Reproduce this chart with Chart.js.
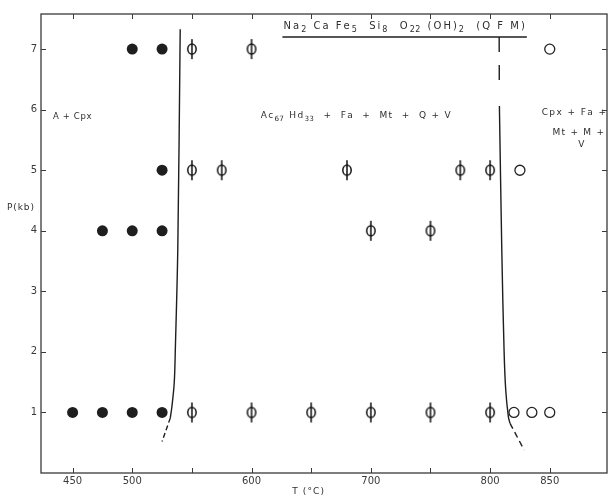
<!DOCTYPE html>
<html><head><meta charset="utf-8">
<script src="https://cdn.jsdelivr.net/npm/chart.js@4"></script>
<style>html,body{margin:0;padding:0;background:#fff}canvas{display:block}</style>
</head><body><canvas id="c" width="614" height="495"></canvas>
<script>
// ---- data (T in °C, P in kb) ----
const xTicks = [450, 500, 550, 600, 650, 700, 750, 800, 850];
const xTickLabels = ['450', '500', '', '600', '', '700', '', '800', '850'];
const yTicks = [1, 2, 3, 4, 5, 6, 7];

// A + Cpx (filled circles)
const filledT = [500, 525, 525, 475, 500, 525, 450, 475, 500, 525];
const filledP = [7, 7, 5, 4, 4, 4, 1, 1, 1, 1];
// amphibole stable (circle with bar)
const phiT = [550, 600, 550, 575, 680, 775, 800, 700, 750, 550, 600, 650, 700, 750, 800];
const phiP = [7, 7, 5, 5, 5, 5, 5, 4, 4, 1, 1, 1, 1, 1, 1];
// Cpx + Fa + Mt + M + V (open circles)
const openT = [850, 825, 820, 835, 850];
const openP = [7, 5, 1, 1, 1];

// phase boundaries
const leftBoundT = [540.2, 538.2, 536.1, 535.2, 533.2, 531.9];
const leftBoundP = [7.33, 3.73, 2.03, 1.49, 1.09, 0.91];
const leftDashT = [531.9, 525.0];
const leftDashP = [0.91, 0.52];
const rightBoundT = [807.8, 809.8, 811.7, 813.1, 815.3, 816.7];
const rightBoundP = [6.06, 3.68, 2.03, 1.37, 0.93, 0.82];
const rightDashT = [816.7, 828.5];
const rightDashP = [0.82, 0.38];
const rightUpT = [807.6, 807.7];
const rightUpP = [7.20, 6.42];
const headerLineT = [625.9, 830.8];
const headerLineP = [7.20, 7.20];

// text labels: [text, T start, T end, P]
const labelTexts = ['Na_2 Ca Fe_5  Si_8  O_22 (OH)_2  (Q F M)', 'A + Cpx', 'Ac_67 Hd_33  +  Fa  +  Mt  +  Q + V', 'Cpx + Fa +', 'Mt + M +', 'V'];
const labelT0 = [626.8, 433.5, 607.7, 843.2, 852.4, 874.0];
const labelT1 = [829.1, 465.8, 766.9, 897.2, 895.5, null];
const labelP = [7.37, 5.88, 5.90, 5.95, 5.62, 5.42];
const labelSize = [10, 8.5, 9, 9, 9, 9];

const zip = (a, b) => a.map((v, i) => ({x: v, y: b[i]}));

// phi marker
const phi = document.createElement('canvas');
phi.width = 12; phi.height = 22;
(function(){
  const g = phi.getContext('2d');
  g.strokeStyle = '#111'; g.lineWidth = 1.5;
  g.beginPath(); g.ellipse(6, 11, 4.2, 5.0, 0, 0, Math.PI * 2); g.stroke();
  g.beginPath(); g.moveTo(6, 1); g.lineTo(6, 21); g.stroke();
})();

function parseRich(str) {
  const out = []; const re = /_(\d+)/g; let last = 0, m;
  while ((m = re.exec(str))) {
    if (m.index > last) out.push({t: str.slice(last, m.index), sub: false});
    out.push({t: m[1], sub: true}); last = re.lastIndex;
  }
  if (last < str.length) out.push({t: str.slice(last), sub: false});
  return out;
}
function drawRich(ctx, str, x0, x1, yMid, size) {
  const chars = [];
  parseRich(str).forEach(s => { for (const c of s.t) chars.push({c, sub: s.sub}); });
  const fMain = size + 'px "DejaVu Sans"', fSub = (size * 0.8) + 'px "DejaVu Sans"';
  let nat = 0, wsum = 0;
  chars.forEach((ch, i) => {
    ctx.font = ch.sub ? fSub : fMain; ch.w = ctx.measureText(ch.c).width; nat += ch.w;
    ch.gw = (i < chars.length - 1) ? ((ch.sub && chars[i + 1].sub) ? 0.25 : 1) : 0;
    wsum += ch.gw;
  });
  const sp = (wsum > 0 && x1 != null) ? (x1 - x0 - nat) / wsum : 0;
  let x = x0;
  ctx.textBaseline = 'middle'; ctx.textAlign = 'left';
  chars.forEach(ch => {
    ctx.font = ch.sub ? fSub : fMain;
    ctx.fillText(ch.c, x, yMid + (ch.sub ? size * 0.35 : 0));
    x += ch.w + sp * ch.gw;
  });
}

const decor = {
  id: 'decor',
  afterDatasetsDraw(chart) {
    const {ctx, chartArea: a, scales: {x, y}} = chart;
    ctx.save();
    ctx.strokeStyle = '#3a3a3a'; ctx.lineWidth = 1.3;
    ctx.strokeRect(a.left, a.top, a.right - a.left, a.bottom - a.top);
    ctx.lineWidth = 1;
    ctx.beginPath();
    x.ticks.forEach(t => {
      const px = Math.round(x.getPixelForValue(t.value)) + 0.5;
      ctx.moveTo(px, a.bottom); ctx.lineTo(px, a.bottom - 5);
      ctx.moveTo(px, a.top); ctx.lineTo(px, a.top + 5);
    });
    y.ticks.forEach(t => {
      const py = Math.round(y.getPixelForValue(t.value)) + 0.5;
      ctx.moveTo(a.left, py); ctx.lineTo(a.left + 5, py);
      ctx.moveTo(a.right, py); ctx.lineTo(a.right - 5, py);
    });
    ctx.stroke();
    ctx.fillStyle = '#2e2e2e';
    labelTexts.forEach((txt, i) => {
      const x0 = x.getPixelForValue(labelT0[i]);
      const x1 = labelT1[i] == null ? null : x.getPixelForValue(labelT1[i]);
      drawRich(ctx, txt, x0, x1, y.getPixelForValue(labelP[i]), labelSize[i]);
    });
    // axis titles
    drawRich(ctx, 'P(kb)', a.left - 34, a.left - 7, y.getPixelForValue(4.38), 9);
    drawRich(ctx, 'T (°C)', x.getPixelForValue(634.2), x.getPixelForValue(660.7), a.bottom + 19, 9);
    ctx.restore();
  }
};

const lineBase = {showLine: true, pointRadius: 0, borderColor: '#1e1e1e', borderWidth: 1.4, fill: false};

new Chart(document.getElementById('c'), {
  type: 'scatter',
  data: {datasets: [
    {data: zip(filledT, filledP), pointStyle: 'circle', pointRadius: 5.5, backgroundColor: '#1e1e1e', borderColor: '#1e1e1e', borderWidth: 0, order: 0},
    {data: zip(phiT, phiP), pointStyle: phi, pointRadius: 6, order: 0},
    {data: zip(openT, openP), pointStyle: 'circle', pointRadius: 5, backgroundColor: '#fff', borderColor: '#222', borderWidth: 1.3, order: 0},
    Object.assign({data: zip(leftBoundT, leftBoundP), tension: 0.35, order: 1}, lineBase),
    Object.assign({data: zip(leftDashT, leftDashP), borderDash: [5, 3], order: 1}, lineBase),
    Object.assign({data: zip(rightBoundT, rightBoundP), tension: 0.35, order: 1}, lineBase),
    Object.assign({data: zip(rightDashT, rightDashP), borderDash: [6, 4], order: 1}, lineBase),
    Object.assign({data: zip(rightUpT, rightUpP), borderDash: [15, 13], order: 1}, lineBase),
    Object.assign({data: zip(headerLineT, headerLineP), borderWidth: 1.1, order: 1}, lineBase)
  ]},
  options: {
    responsive: false, animation: false, events: [],
    layout: {padding: {top: 14, right: 1, left: 0, bottom: 0}},
    plugins: {legend: {display: false}, tooltip: {enabled: false}},
    scales: {
      x: {
        type: 'linear', min: 423.5, max: 898,
        grid: {display: false, drawTicks: false}, border: {display: false},
        afterBuildTicks: s => { s.ticks = xTicks.map(v => ({value: v})); },
        afterFit: s => { s.height = 22; },
        ticks: {padding: 2, color: '#3a3a3a', font: {family: 'DejaVu Sans', size: 10},
          maxRotation: 0, autoSkip: false,
          callback: (v) => { const i = xTicks.indexOf(v); return i >= 0 ? xTickLabels[i] : ''; }}
      },
      y: {
        type: 'linear', min: 0, max: 7.58,
        grid: {display: false, drawTicks: false}, border: {display: false},
        afterBuildTicks: s => { s.ticks = yTicks.map(v => ({value: v})); },
        afterFit: s => { s.width = 41; },
        ticks: {padding: 4, color: '#3a3a3a', font: {family: 'DejaVu Sans', size: 10},
          callback: v => String(v)}
      }
    }
  },
  plugins: [decor]
});
</script>
</body></html>
